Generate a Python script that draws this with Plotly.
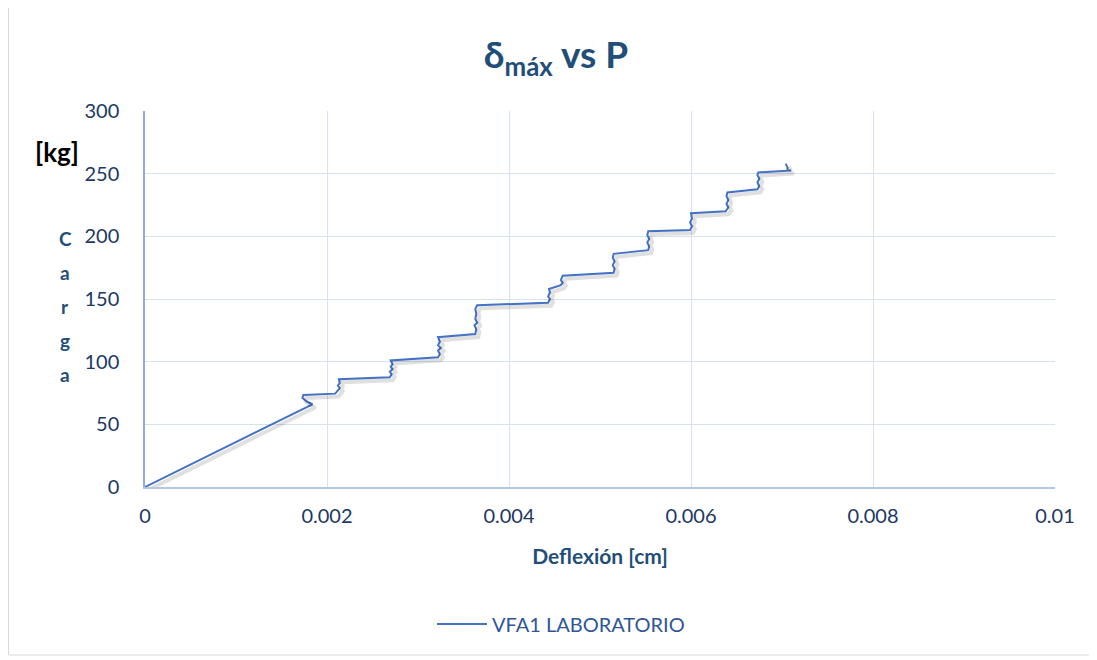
import plotly.graph_objects as go

deflexion = [0, 0.00184, 0.00178, 0.00173, 0.00174, 0.00209,
             0.00212, 0.00214, 0.00212, 0.00214, 0.00213, 0.00269,
             0.00271, 0.00269, 0.00272, 0.00270, 0.00272, 0.00270, 0.00322,
             0.00324, 0.00322, 0.00325, 0.00322, 0.00324, 0.00322, 0.00363,
             0.00364, 0.00362, 0.00365, 0.00363, 0.00364, 0.00363, 0.00365, 0.00443,
             0.00445, 0.00443, 0.00445, 0.00444, 0.00457,
             0.00459, 0.00457, 0.00459, 0.00515,
             0.00516, 0.00514, 0.00516, 0.00514, 0.00515, 0.00553,
             0.00554, 0.00552, 0.00554, 0.00552, 0.00553, 0.00599,
             0.00601, 0.00599, 0.00601, 0.00600, 0.00638,
             0.00641, 0.00639, 0.00641, 0.00639, 0.00640, 0.00673,
             0.00675, 0.00673, 0.00675, 0.00673, 0.00674, 0.00710,
             0.00706, 0.00706, 0.00704]
carga = [0, 66, 68, 71, 73.5, 74.5,
         77, 79, 81, 83, 86, 87.5,
         90, 92, 94, 96, 98, 101, 103.5,
         106, 109, 111, 113, 116, 119.5, 122,
         126, 129, 131, 134, 138, 142, 145, 147,
         150, 152, 155, 158, 161,
         163, 165, 168.5, 171,
         174, 177, 180, 183, 186, 189,
         192, 195, 198, 201, 204, 205,
         208, 211, 214, 218.5, 220,
         223, 226, 229, 232, 235, 237.5,
         240, 243, 246, 249, 251, 252.5,
         252.5, 255, 258]

x_ticks = [0, 0.002, 0.004, 0.006, 0.008, 0.01]
x_labels = ["0", "0.002", "0.004", "0.006", "0.008", "0.01"]
y_ticks = [0, 50, 100, 150, 200, 250, 300]
y_letters = ["C", "a", "r", "g", "a"]

FONT = "Lato"
NAVY = "#203864"
TITLE_BLUE = "#1F4E79"
GRID = "#D6E1F2"

# page-pixel helpers (plot area spans page x 145..1055, y 111..487)
def px(xp):
    return (xp - 145) / 910

def py(yp):
    return (487 - yp) / 376

X_RANGE = [0, 0.01]
Y_RANGE = [0, 300]
sdx = 3 * (X_RANGE[1] - X_RANGE[0]) / 910
sdy = 3 * (Y_RANGE[1] - Y_RANGE[0]) / 376

fig = go.Figure()
# soft shadow (same data, drawn on an offset overlay axis)
fig.add_trace(go.Scatter(
    x=deflexion, y=carga, mode="lines", showlegend=False, hoverinfo="skip",
    line=dict(color="rgba(0,0,0,0.12)", width=4),
    xaxis="x2", yaxis="y2",
))
fig.add_trace(go.Scatter(
    x=deflexion, y=carga, mode="lines", name="VFA1 LABORATORIO",
    line=dict(color="#4472C4", width=2),
))

annotations = [
    dict(text="<b>[kg]</b>", xref="paper", yref="paper",
         x=px(57), y=py(152), xanchor="center", yanchor="middle",
         showarrow=False, font=dict(size=26, color="black", family=FONT)),
]
for i, ch in enumerate(y_letters):
    annotations.append(dict(
        text=f"<b>{ch}</b>", xref="paper", yref="paper",
        x=px(65), y=py(238 + i * 34), xanchor="center", yanchor="middle",
        showarrow=False, font=dict(size=19, color=TITLE_BLUE, family=FONT)))

fig.update_layout(
    width=1089, height=652,
    margin=dict(l=137, r=42, t=103, b=173),
    paper_bgcolor="white", plot_bgcolor="white",
    font=dict(family=FONT, color=NAVY, size=20),
    title=dict(text="<b>δ<sub>máx</sub> vs P</b>", x=(556 - 8) / 1089, xanchor="center",
               y=1 - (55 - 8) / 652, yanchor="middle",
               font=dict(family=FONT, size=37, color=TITLE_BLUE)),
    xaxis=dict(range=X_RANGE, tickvals=x_ticks, ticktext=x_labels,
               showgrid=True, gridcolor=GRID, gridwidth=1.3,
               zeroline=False, showline=True, linecolor="#B4C7E7", linewidth=1.5,
               ticks="", ticklabelstandoff=10, tickfont=dict(size=20, color=NAVY),
               title=dict(text="<b>Deflexión [cm]</b>", standoff=24,
                          font=dict(size=21, color=TITLE_BLUE))),
    yaxis=dict(range=Y_RANGE, tickvals=y_ticks,
               showgrid=True, gridcolor=GRID, gridwidth=1.3,
               zeroline=False, showline=True, linecolor="#8FAADC", linewidth=1.5,
               ticks="", ticklabelstandoff=20, tickfont=dict(size=20, color=NAVY)),
    xaxis2=dict(range=[X_RANGE[0] - sdx, X_RANGE[1] - sdx], overlaying="x",
                visible=False, fixedrange=True),
    yaxis2=dict(range=[Y_RANGE[0] + sdy, Y_RANGE[1] + sdy], overlaying="y",
                visible=False, fixedrange=True),
    showlegend=True,
    legend=dict(orientation="h", x=px(561), xanchor="center", y=py(624), yanchor="middle",
                font=dict(size=20, color="#2F5597"), itemwidth=50),
    annotations=annotations,
    shapes=[dict(type="rect", xref="paper", yref="paper",
                 x0=px(8.5), x1=px(1090), y0=py(655), y1=py(7.5),
                 line=dict(color="#D9D9D9", width=1), layer="below")],
)

fig.write_html("out.html")
